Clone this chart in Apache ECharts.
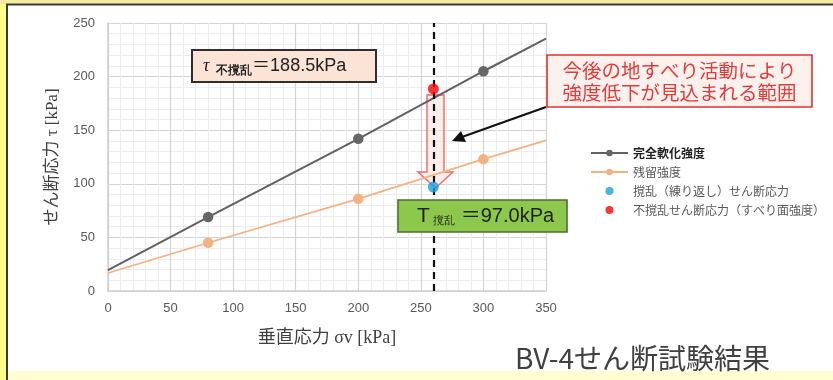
<!DOCTYPE html>
<html><head><meta charset="utf-8">
<script src="https://cdn.jsdelivr.net/npm/echarts@6/dist/echarts.min.js"></script>
<style>html,body{margin:0;padding:0;background:#FFFF8C;}#c{width:833px;height:380px;}</style>
</head><body><div id="c"></div>
<script>
// ---- data ----
const sigmaTest = [80, 200, 300];
const fullySoftened = [69, 142, 205];
const residual = [45, 86, 123];
const trendX = [0, 350];
const fullySoftenedTrend = [19.5, 235.5];
const residualTrend = [16.8, 140.5];
const sampleSigma = 260;
const disturbedTau = 97.0;
const undisturbedTau = 188.5;
const xTicks = {min: 0, max: 350, interval: 50};
const yTicks = {min: 0, max: 250, interval: 50};
const seriesNames = ['完全軟化強度', '残留強度', '撹乱（練り返し）せん断応力', '不撹乱せん断応力（すべり面強度）'];

function buildLine(xs, ys, tx, ty) {
  const pts = [{value: [tx[0], ty[0]], symbol: 'none'}];
  xs.forEach((x, i) => pts.push({value: [x, ys[i]]}));
  pts.push({value: [tx[1], ty[1]], symbol: 'none'});
  return pts;
}

const chart = echarts.init(document.getElementById('c'));
const serifFont = "'Liberation Serif','Noto Sans CJK JP',serif";
const cjk = "'Noto Sans CJK JP','Liberation Sans',sans-serif";
const sans = "'Liberation Sans','Noto Sans CJK JP',sans-serif";

chart.setOption({
  animation: false,
  textStyle: {fontFamily: cjk},
  grid: {left: 108, top: 23, width: 438, height: 268, containLabel: false},
  xAxis: {
    type: 'value', min: xTicks.min, max: xTicks.max, interval: xTicks.interval,
    name: '垂直応力 σv [kPa]', nameLocation: 'middle', nameGap: 38,
    nameTextStyle: {fontFamily: serifFont, fontSize: 18, color: '#404040'},
    axisLine: {show: true, lineStyle: {color: '#D0D0D0', width: 1.5}},
    axisTick: {show: false},
    axisLabel: {color: '#595959', fontSize: 13, margin: 11, fontFamily: "'Liberation Sans',sans-serif"},
    splitLine: {show: true, lineStyle: {color: '#D4D4D4', width: 1.2}},
    minorTick: {show: false, splitNumber: 5},
    minorSplitLine: {show: true, lineStyle: {color: '#EDEDED', width: 1}}
  },
  yAxis: {
    type: 'value', min: yTicks.min, max: yTicks.max, interval: yTicks.interval,
    name: 'せん断応力 τ [kPa]', nameLocation: 'middle', nameGap: 47, nameRotate: 90,
    nameTextStyle: {fontFamily: serifFont, fontSize: 17, color: '#404040'},
    axisLine: {show: true, lineStyle: {color: '#D0D0D0', width: 1.5}},
    axisTick: {show: false},
    axisLabel: {color: '#595959', fontSize: 13, margin: 13, fontFamily: "'Liberation Sans',sans-serif"},
    splitLine: {show: true, lineStyle: {color: '#D4D4D4', width: 1.2}},
    minorTick: {show: false, splitNumber: 5},
    minorSplitLine: {show: true, lineStyle: {color: '#EDEDED', width: 1}}
  },
  legend: {
    orient: 'vertical', left: 585, top: 142, itemWidth: 37, itemHeight: 8, itemGap: 7,
    textStyle: {fontSize: 12, color: '#595959'},
    data: [
      {name: seriesNames[0], textStyle: {color: '#222', fontWeight: 'bold'}},
      {name: seriesNames[1]},
      {name: seriesNames[2]},
      {name: seriesNames[3]}
    ]
  },
  series: [
    {
      name: seriesNames[0], type: 'line', data: buildLine(sigmaTest, fullySoftened, trendX, fullySoftenedTrend),
      symbol: 'circle', symbolSize: 10.5, color: '#616161',
      lineStyle: {color: '#616161', width: 2}, itemStyle: {color: '#666'}, z: 3,
      markLine: {
        silent: true, symbol: 'none', label: {show: false},
        lineStyle: {color: '#111', type: [7, 5], width: 2.2},
        data: [{xAxis: sampleSigma}]
      }
    },
    {
      name: seriesNames[1], type: 'line', data: buildLine(sigmaTest, residual, trendX, residualTrend),
      symbol: 'circle', symbolSize: 10.5, color: '#F4B183',
      lineStyle: {color: '#F4B183', width: 1.8}, itemStyle: {color: '#F4B183'}, z: 3
    },
    {
      name: seriesNames[2], type: 'scatter', data: [[sampleSigma, disturbedTau]],
      symbolSize: 11, itemStyle: {color: '#1AA0E0'}, z: 6
    },
    {
      name: seriesNames[3], type: 'scatter', data: [[sampleSigma, undisturbedTau]],
      symbolSize: 11, itemStyle: {color: '#FF0000'}, z: 6
    }
  ],
  graphic: [
    // frame
    {type: 'rect', z: -10, silent: true, shape: {x: 0, y: 0, width: 833, height: 4}, style: {fill: '#F2ECA0'}},
    {type: 'rect', z: -10, silent: true, shape: {x: 7, y: 4, width: 826, height: 367}, style: {fill: '#FFFFFF'}},
    {type: 'rect', z: -10, silent: true, shape: {x: 7, y: 371, width: 826, height: 9}, style: {fill: '#FFFFD2'}},
    {type: 'polyline', z: 100, silent: true, shape: {points: [[7, 380], [7, 4.5], [833, 4.5]]}, style: {stroke: '#3A3A3A', lineWidth: 2, fill: null}},
    // hollow arrow (under series)
    {type: 'polygon', z: 1, silent: true,
      shape: {points: [[427, 95], [444, 95], [444, 172], [453, 172], [435.5, 188], [418, 172], [427, 172]]},
      style: {fill: 'rgba(251,226,218,0.55)', stroke: '#EC6A6A', lineWidth: 1.4}},
    // black pointer arrow
    {type: 'line', z: 50, silent: true, shape: {x1: 546, y1: 107, x2: 462, y2: 137}, style: {stroke: '#111', lineWidth: 2}},
    {type: 'polygon', z: 50, silent: true, shape: {points: [[452, 141], [466, 142], [461, 131]]}, style: {fill: '#111'}},
    // tau undisturbed box
    {type: 'rect', z: 60, silent: true, shape: {x: 192, y: 50, width: 184, height: 32}, style: {fill: '#FBE3D6', stroke: '#2E2E2E', lineWidth: 2}},
    {type: 'text', z: 61, silent: true, x: 203, y: 66,
      style: {text: '{a|τ}  {s|不撹乱}{b|＝188.5kPa}', verticalAlign: 'middle',
        rich: {a: {fontFamily: serifFont, fontStyle: 'italic', fontSize: 18, fill: '#222'},
               s: {fontSize: 11.5, fill: '#222', padding: [10, 0, 0, 0], fontWeight: 'bold'},
               b: {fontSize: 18, fill: '#222', fontFamily: sans}}}},
    // red note box
    {type: 'rect', z: 60, silent: true, shape: {x: 547, y: 55, width: 265, height: 52}, style: {fill: '#FDF1EE', stroke: '#E53030', lineWidth: 1.6}},
    {type: 'text', z: 61, silent: true, x: 679.5, y: 82,
      style: {text: '今後の地すべり活動により\n強度低下が見込まれる範囲', align: 'center', verticalAlign: 'middle',
        fontSize: 19.5, lineHeight: 22, fill: '#E53A3A', fontFamily: cjk}},
    // green box
    {type: 'rect', z: 60, silent: true, shape: {x: 398, y: 200, width: 169, height: 32}, style: {fill: '#8CC84B', stroke: '#4F6B3A', lineWidth: 1.6}},
    {type: 'text', z: 61, silent: true, x: 417, y: 216,
      style: {text: '{a|T} {s|撹乱}{b| ＝97.0kPa}', verticalAlign: 'middle',
        rich: {a: {fontSize: 21, fill: '#222', fontFamily: "'Liberation Sans',sans-serif"},
               s: {fontSize: 10.5, fill: '#222', padding: [11, 0, 0, 0]},
               b: {fontSize: 20, fill: '#222', fontFamily: sans}}}},
    // title
    {type: 'text', z: 61, silent: true, x: 515, y: 358,
      style: {text: 'BV-4せん断試験結果', verticalAlign: 'middle', fontSize: 28, fill: '#404040', fontFamily: cjk}}
  ]
});
</script></body></html>
